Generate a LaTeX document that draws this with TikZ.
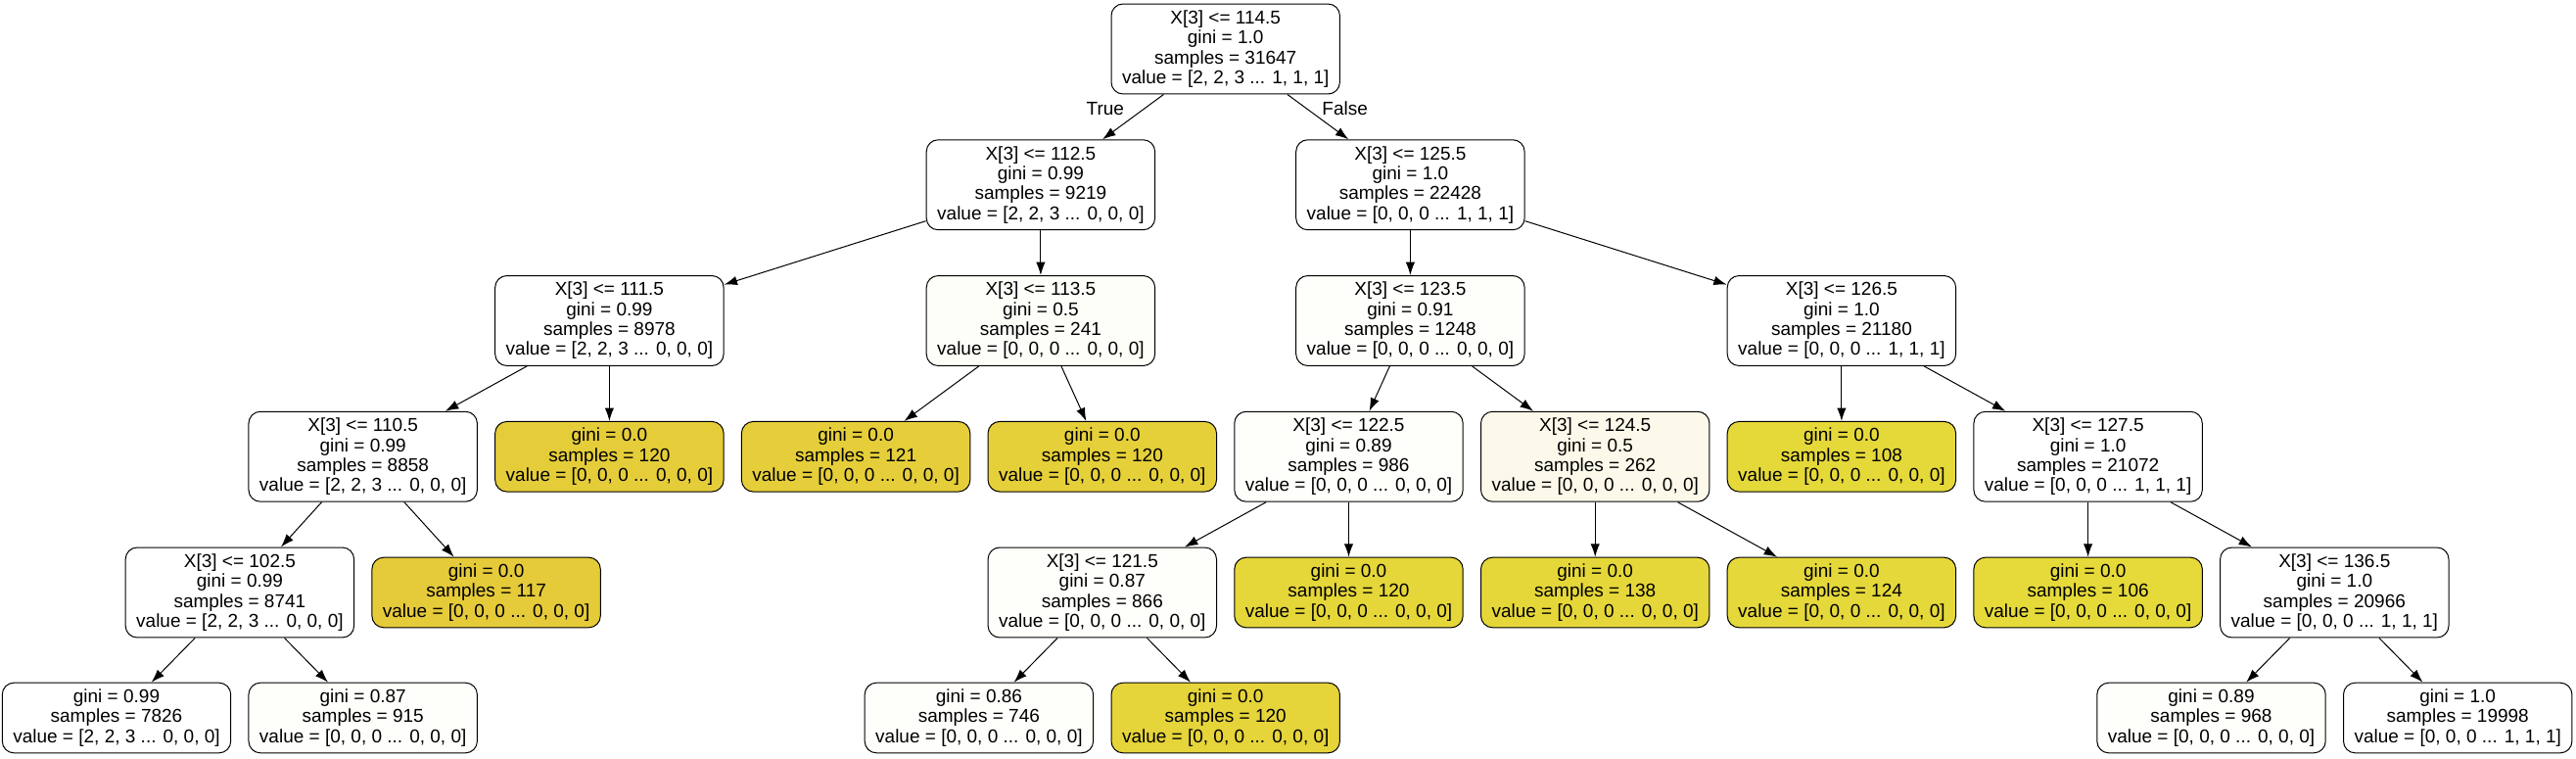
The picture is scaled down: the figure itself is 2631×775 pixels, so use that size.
\documentclass[tikz,border=0pt]{standalone}
\usepackage{fontspec}
\setmainfont{Liberation Sans}
\usetikzlibrary{arrows.meta}
% class colours of the pure leaves
\definecolor{y111}{RGB}{229,202,58}
\definecolor{y112}{RGB}{229,205,58}
\definecolor{y113}{RGB}{229,206,58}
\definecolor{y114}{RGB}{229,208,58}
\definecolor{y122}{RGB}{229,212,58}
\definecolor{y123}{RGB}{229,214,58}
\definecolor{y124}{RGB}{229,215,58}
\definecolor{y125}{RGB}{229,216,58}
\definecolor{y126}{RGB}{229,217,58}
\definecolor{y127}{RGB}{229,218,58}
\definecolor{tint1}{RGB}{254,254,251}
\definecolor{tint2}{RGB}{254,254,249}
\definecolor{tint3}{RGB}{252,249,234}
\tikzset{
  tree/.style={draw, fill=white, rounded corners=6pt, align=center,
    inner xsep=5.5pt, line width=0.5pt},
  split/.style={tree, minimum height=45pt},
  leaf/.style={tree, minimum height=35.5pt},
}
\begin{document}
\begin{tikzpicture}[x=0.5pt, y=-0.5pt, font=\fontsize{9.5pt}{10.15pt}\selectfont]
  \useasboundingbox (0,0) rectangle (2631,775);
  \draw
    (1251.7,50) node[split] (0) {X[3] <= 114.5\\gini = 1.0\\samples = 31647\\value = [2, 2, 3 ... 1, 1, 1]}
    (1062.9,188.75) node[split] (1) {X[3] <= 112.5\\gini = 0.99\\samples = 9219\\value = [2, 2, 3 ... 0, 0, 0]}
    (622.4,327.5) node[split] (2) {X[3] <= 111.5\\gini = 0.99\\samples = 8978\\value = [2, 2, 3 ... 0, 0, 0]}
    (370.7,466.25) node[split] (3) {X[3] <= 110.5\\gini = 0.99\\samples = 8858\\value = [2, 2, 3 ... 0, 0, 0]}
    (244.9,605) node[split] (4) {X[3] <= 102.5\\gini = 0.99\\samples = 8741\\value = [2, 2, 3 ... 0, 0, 0]}
    (119,733) node[leaf] (5) {gini = 0.99\\samples = 7826\\value = [2, 2, 3 ... 0, 0, 0]}
    (370.7,733) node[leaf, fill=tint1] (6) {gini = 0.87\\samples = 915\\value = [0, 0, 0 ... 0, 0, 0]}
    (496.6,605) node[leaf, fill=y111] (7) {gini = 0.0\\samples = 117\\value = [0, 0, 0 ... 0, 0, 0]}
    (622.4,466.25) node[leaf, fill=y112] (8) {gini = 0.0\\samples = 120\\value = [0, 0, 0 ... 0, 0, 0]}
    (1062.9,327.5) node[split, fill=tint2] (9) {X[3] <= 113.5\\gini = 0.5\\samples = 241\\value = [0, 0, 0 ... 0, 0, 0]}
    (874.1,466.25) node[leaf, fill=y113] (10) {gini = 0.0\\samples = 121\\value = [0, 0, 0 ... 0, 0, 0]}
    (1125.8,466.25) node[leaf, fill=y114] (11) {gini = 0.0\\samples = 120\\value = [0, 0, 0 ... 0, 0, 0]}
    (1440.4,188.75) node[split] (12) {X[3] <= 125.5\\gini = 1.0\\samples = 22428\\value = [0, 0, 0 ... 1, 1, 1]}
    (1440.4,327.5) node[split, fill=tint1] (13) {X[3] <= 123.5\\gini = 0.91\\samples = 1248\\value = [0, 0, 0 ... 0, 0, 0]}
    (1377.5,466.25) node[split, fill=tint1] (14) {X[3] <= 122.5\\gini = 0.89\\samples = 986\\value = [0, 0, 0 ... 0, 0, 0]}
    (1125.8,605) node[split, fill=tint1] (15) {X[3] <= 121.5\\gini = 0.87\\samples = 866\\value = [0, 0, 0 ... 0, 0, 0]}
    (999.9,733) node[leaf, fill=tint1] (16) {gini = 0.86\\samples = 746\\value = [0, 0, 0 ... 0, 0, 0]}
    (1251.7,733) node[leaf, fill=y122] (17) {gini = 0.0\\samples = 120\\value = [0, 0, 0 ... 0, 0, 0]}
    (1377.5,605) node[leaf, fill=y123] (18) {gini = 0.0\\samples = 120\\value = [0, 0, 0 ... 0, 0, 0]}
    (1629.2,466.25) node[split, fill=tint3] (19) {X[3] <= 124.5\\gini = 0.5\\samples = 262\\value = [0, 0, 0 ... 0, 0, 0]}
    (1629.2,605) node[leaf, fill=y124] (20) {gini = 0.0\\samples = 138\\value = [0, 0, 0 ... 0, 0, 0]}
    (1880.9,605) node[leaf, fill=y125] (21) {gini = 0.0\\samples = 124\\value = [0, 0, 0 ... 0, 0, 0]}
    (1880.9,327.5) node[split] (22) {X[3] <= 126.5\\gini = 1.0\\samples = 21180\\value = [0, 0, 0 ... 1, 1, 1]}
    (1880.9,466.25) node[leaf, fill=y126] (23) {gini = 0.0\\samples = 108\\value = [0, 0, 0 ... 0, 0, 0]}
    (2132.6,466.25) node[split] (24) {X[3] <= 127.5\\gini = 1.0\\samples = 21072\\value = [0, 0, 0 ... 1, 1, 1]}
    (2132.6,605) node[leaf, fill=y127] (25) {gini = 0.0\\samples = 106\\value = [0, 0, 0 ... 0, 0, 0]}
    (2384.3,605) node[split] (26) {X[3] <= 136.5\\gini = 1.0\\samples = 20966\\value = [0, 0, 0 ... 1, 1, 1]}
    (2258.5,733) node[leaf, fill=tint1] (27) {gini = 0.89\\samples = 968\\value = [0, 0, 0 ... 0, 0, 0]}
    (2510.2,733) node[leaf] (28) {gini = 1.0\\samples = 19998\\value = [0, 0, 0 ... 1, 1, 1]};
  \begin{scope}[-{Latex[length=6.7pt,width=4.7pt]}, line width=0.5pt]
    \draw (0) to node[pos=0.31, left=7pt] {True} (1);
    \draw (0) to node[pos=0.31, right=4.5pt] {False} (12);
    \draw (1) to (2);
    \draw (1) to (9);
    \draw (2) to (3);
    \draw (2) to (8);
    \draw (3) to (4);
    \draw (3) to (7);
    \draw (4) to (5);
    \draw (4) to (6);
    \draw (9) to (10);
    \draw (9) to (11);
    \draw (12) to (13);
    \draw (12) to (22);
    \draw (13) to (14);
    \draw (13) to (19);
    \draw (14) to (15);
    \draw (14) to (18);
    \draw (15) to (16);
    \draw (15) to (17);
    \draw (19) to (20);
    \draw (19) to (21);
    \draw (22) to (23);
    \draw (22) to (24);
    \draw (24) to (25);
    \draw (24) to (26);
    \draw (26) to (27);
    \draw (26) to (28);
  \end{scope}
\end{tikzpicture}
\end{document}
